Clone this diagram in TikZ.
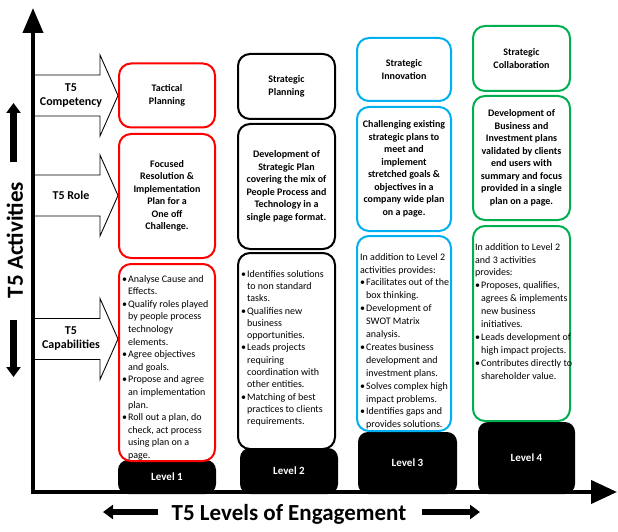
\documentclass[tikz,border=0pt]{standalone}
\usepackage{fontspec}
\setmainfont{Carlito}
\usepackage{xcolor}
\usepackage{tikz}
\usetikzlibrary{positioning,arrows.meta}
\definecolor{lvred}{HTML}{FF0000}
\definecolor{lvblue}{HTML}{00B0F0}
\definecolor{lvgreen}{HTML}{00B050}
\tikzset{
  box/.style={draw, line width=2pt, rounded corners=12pt, fill=white, inner sep=0pt,
    align=center, font=\bfseries\fontsize{10}{12.5}\selectfont},
  level/.style={fill=black, rounded corners=10pt, text=white, inner sep=0pt,
    font=\bfseries\fontsize{11}{13}\selectfont},
  list/.style={anchor=north west, align=left, inner sep=0pt,
    font=\fontsize{10}{12.6}\selectfont},
  tag/.style={align=center, font=\bfseries\fontsize{12}{14}\selectfont},
  bigarrow/.style={line width=6.5pt, -{Triangle[width=14pt,length=10pt]}},
  axis/.style={line width=4pt}
}
\newcommand{\itm}{\makebox[6pt][l]{\textbullet}}
\newcommand{\cnt}{\hspace*{6pt}}

\begin{document}
\begin{tikzpicture}[x=1pt,y=-1pt]
\useasboundingbox (0,0) rectangle (618,532);

\foreach \y/\lab/\nm in {95.5/{T5\\Competency}/comp, 195.5/{T5 Role}/role, 339/{T5\\Capabilities}/capa}{
  \draw[fill=white, line width=0.9pt] (33,\y-20.5) -- ++(67,0) -- ++(0,-20) -- (118,\y)
    -- (100,\y+40.5) -- ++(0,-20) -- (33,\y+20.5);
  \node[tag] (\nm) at (71,\y) {\lab};
}

\foreach \n/\x/\y/\w/\h in {1/167/477/98/34, 2/289/471/98/46, 3/407.5/463/99/62, 4/526.5/458/97/72}
  \node[level, minimum width=\w pt, minimum height=\h pt] (l\n) at (\x,\y) {Level \n};

\node[box, draw=lvred, minimum width=96pt, minimum height=64pt] (c1a) at (167,95.5) {Tactical\\Planning};
\node[box, draw=lvred, minimum width=96pt, minimum height=124pt] (c1b) at (167,196) {Focused\\Resolution \&\\Implementation\\Plan for a\\One off\\Challenge.};
\node[box, draw=lvred, minimum width=96pt, minimum height=197pt] (c1c) at (167,362.5) {};
\node[list, below right=12pt and 4pt of c1c.north west] (c1t) {\itm Analyse Cause and\\\cnt Effects.\\\itm Qualify roles played\\\cnt by people process\\\cnt technology\\\cnt elements.\\\itm Agree objectives\\\cnt and goals.\\\itm Propose and agree\\\cnt an implementation\\\cnt plan.\\\itm Roll out a plan, do\\\cnt check, act process\\\cnt using plan on a\\\cnt page.};

\node[box, draw=black, minimum width=97pt, minimum height=65pt] (c2a) at (286.5,86.5) {Strategic\\Planning};
\node[box, draw=black, minimum width=97pt, minimum height=125pt] (c2b) at (286.5,186.5) {Development of\\Strategic Plan\\covering the mix of\\People Process and\\Technology in a\\single page format.};
\node[box, draw=black, minimum width=97pt, minimum height=196pt] (c2c) at (286.5,351) {};
\node[list, below right=18pt and 4pt of c2c.north west, font=\fontsize{10}{12.3}\selectfont] (c2t) {\itm Identifies solutions\\\cnt to non standard\\\cnt tasks.\\\itm Qualifies new\\\cnt business\\\cnt opportunities.\\\itm Leads projects\\\cnt requiring\\\cnt coordination with\\\cnt other entities.\\\itm Matching of best\\\cnt practices to clients\\\cnt requirements.};

\node[box, draw=lvblue, minimum width=94pt, minimum height=63pt] (c3a) at (404,69.5) {Strategic\\Innovation};
\node[box, draw=lvblue, minimum width=94pt, minimum height=124pt] (c3b) at (404,169) {Challenging existing\\strategic plans to\\meet and\\implement\\stretched goals \&\\objectives in a\\company wide plan\\on a page.};
\node[box, draw=lvblue, minimum width=94pt, minimum height=195pt] (c3c) at (404,333.5) {};
\node[list, below right=18pt and 4pt of c3c.north west, font=\fontsize{10}{12.9}\selectfont] (c3t) {In addition to Level 2\\activities provides:\\\itm Facilitates out of the\\\cnt box thinking.\\\itm Development of\\\cnt SWOT Matrix\\\cnt analysis.\\\itm Creates business\\\cnt development and\\\cnt investment plans.\\\itm Solves complex high\\\cnt impact problems.\\\itm Identifies gaps and\\\cnt provides solutions.};

\node[box, draw=lvgreen, minimum width=97pt, minimum height=65pt] (c4a) at (521.5,58.5) {Strategic\\Collaboration};
\node[box, draw=lvgreen, minimum width=97pt, minimum height=124pt] (c4b) at (521.5,158) {Development of\\Business and\\Investment plans\\validated by clients\\end users with\\summary and focus\\provided in a single\\plan on a page.};
\node[box, draw=lvgreen, minimum width=97pt, minimum height=195pt] (c4c) at (521.5,323.5) {};
\node[list, below right=18pt and 3pt of c4c.north west, font=\fontsize{10}{12.9}\selectfont] (c4t) {In addition to Level 2\\and 3 activities\\provides:\\\itm Proposes, qualifies,\\\cnt agrees \& implements\\\cnt new business\\\cnt initiatives.\\\itm Leads development of\\\cnt high impact projects.\\\itm Contributes directly to\\\cnt shareholder value.};

\draw[axis, -{Triangle[width=20pt,length=25pt]}] (33,494) -- (33,8);
\draw[axis, -{Triangle[width=23pt,length=26pt]}] (31,492) -- (617,492);

\node[rotate=90, anchor=base, font=\bfseries\fontsize{23}{28}\selectfont] (act) at (23,240) {T5 Activities};
\node[anchor=base, font=\bfseries\fontsize{23}{28}\selectfont] (eng) at (289,520) {T5 Levels of Engagement};

\coordinate (up1) at (13.5,162);
\coordinate (up2) at (13.5,103);
\coordinate (dn1) at (13.5,320);
\coordinate (dn2) at (13.5,377);
\coordinate (lf1) at (158,512);
\coordinate (lf2) at (103,512);
\coordinate (rt1) at (422,512);
\coordinate (rt2) at (480,512);
\draw[bigarrow] (up1) -- (up2);
\draw[bigarrow] (dn1) -- (dn2);
\draw[bigarrow, line width=5.5pt] (lf1) -- (lf2);
\draw[bigarrow, line width=5.5pt] (rt1) -- (rt2);
\end{tikzpicture}
\end{document}
